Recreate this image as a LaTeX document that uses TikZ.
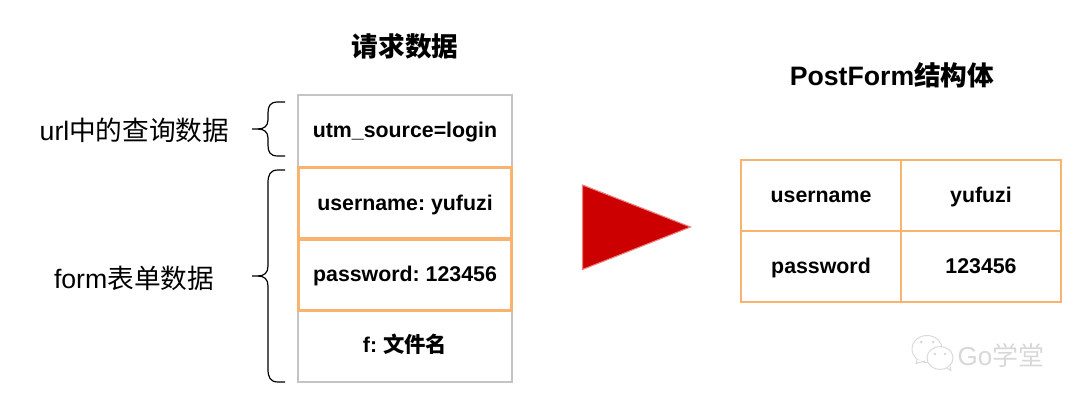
\documentclass[tikz,border=0pt]{standalone}
\usepackage{fontspec}
\setmainfont{Liberation Sans}
\newfontfamily\cjk{Noto Sans CJK SC}
\newfontfamily\cjkb{Noto Sans CJK SC Bold}
\newcommand{\zh}[1]{{\cjk #1}}
\newcommand{\zhb}[1]{{\cjkb #1}}
\definecolor{grayline}{HTML}{C4C4C4}
\definecolor{orangeline}{HTML}{F9B36E}
\definecolor{redfill}{HTML}{CC0000}
\definecolor{redline}{HTML}{F08080}
\definecolor{wm}{HTML}{D8D8D8}
\tikzset{
  celltext/.style={inner sep=0pt,text height=12.5pt,text depth=2.5pt,font=\frenchspacing\bfseries\fontsize{16}{19}\selectfont},
  cellgray/.style={celltext,draw=grayline,line width=1.4pt,minimum width=160.5pt,minimum height=54pt},
  cellorange/.style={celltext,draw=orangeline,line width=2.4pt,minimum width=159.5pt,minimum height=53.5pt},
  tablecell/.style={celltext,draw=orangeline,line width=1pt,minimum width=120pt,minimum height=53.2pt},
  title/.style={font=\bfseries\fontsize{20}{24}\selectfont,inner sep=0pt},
  sidelabel/.style={font=\fontsize{20}{24}\selectfont,inner sep=0pt},
  bracecurve/.style={draw=black,line width=0.9pt},
  bubble/.style={draw=wm,line width=0.7pt,fill=white},
}
\begin{document}
\begin{tikzpicture}[x=0.75pt,y=-0.75pt]
\useasboundingbox (0,0) rectangle (1080,402);
% left stack
\node[cellgray] (url) at (405,131) {utm\_source=login};
\node[cellgray] (file) at (405,346) {f: \zhb{文件名}};
\node[cellorange] (user) at (405,203.5) {username: yufuzi};
\node[cellorange] (pass) at (405,274.5) {password: 123456};
% table
\node[tablecell] (tl) at (821,195.5) {username};
\node[tablecell] (tr) at (981,195.5) {yufuzi};
\node[tablecell] (bl) at (821,266.5) {password};
\node[tablecell] (br) at (981,266.5) {123456};
% titles
\node[title] (t1) at (405,46) {\zhb{请求数据}};
\node[title] (t2) at (892,75) {PostForm\zhb{结构体}};
% side labels
\node[sidelabel] (l1) at (134.5,130) {url\zh{中的查询数据}};
\node[sidelabel] (l2) at (134,278) {form\zh{表单数据}};
% braces
\coordinate (b1t) at (285,102);
\coordinate (b1m) at (252,129);
\coordinate (b1b) at (285,156);
\coordinate (b2t) at (285,170);
\coordinate (b2m) at (252,276);
\coordinate (b2b) at (285,382);
\draw[bracecurve] (b1t) -- (278,102) .. controls (270,102) and (268,106) .. (268,113) -- (268,120) .. controls (268,126) and (264,129) .. (258,129) -- (b1m);
\draw[bracecurve] (b1b) -- (278,156) .. controls (270,156) and (268,152) .. (268,145) -- (268,138) .. controls (268,132) and (264,129) .. (258,129);
\draw[bracecurve] (b2t) -- (278,170) .. controls (270,170) and (268,175) .. (268,183) -- (268,266) .. controls (268,273) and (264,276) .. (258,276) -- (b2m);
\draw[bracecurve] (b2b) -- (278,382) .. controls (270,382) and (268,377) .. (268,369) -- (268,286) .. controls (268,279) and (264,276) .. (258,276);
% arrow triangle
\coordinate (a1) at (582.5,185);
\coordinate (a2) at (690.5,227);
\coordinate (a3) at (582.5,269.5);
\draw[draw=redline,line width=0.8pt,fill=redfill,line join=miter] (a1) -- (a2) -- (a3) -- cycle;
% watermark
\draw[bubble] (927,349) ellipse (15 and 13.5);
\draw[bubble] (917,360) -- (916,363.5) -- (925,361);
\draw[wm,line width=0.7pt,fill=white] (940,358) ellipse (13 and 11.5);
\draw[wm,line width=0.7pt,fill=white] (947,368) -- (951,370.5) -- (950,366);
\fill[wm] (921,342) circle (1.5) (933,342) circle (1.5) (935,354) circle (1.3) (945,354) circle (1.3);
\node[font=\fontsize{19.5}{22}\selectfont,text=wm,inner sep=0pt] (wmtext) at (1001,355) {Go\zh{学堂}};
\end{tikzpicture}
\end{document}
